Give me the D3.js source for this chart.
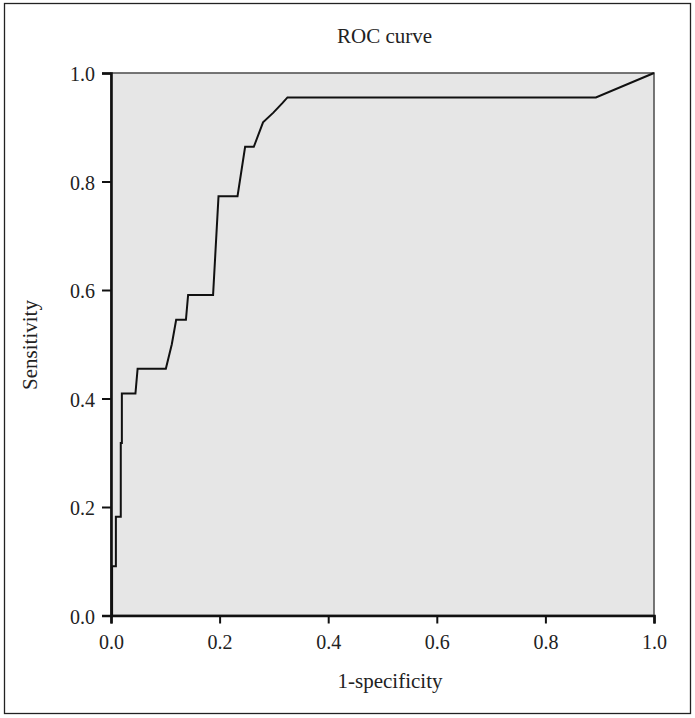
<!DOCTYPE html>
<html><head><meta charset="utf-8">
<script src="https://cdn.jsdelivr.net/npm/d3@7"></script>
<style>body{margin:0;background:#fff}</style>
</head><body>
<svg id="c" width="695" height="718"></svg>
<script>
const title = "ROC curve";
const xLabel = "1-specificity";
const yLabel = "Sensitivity";
const tickValues = [0, 0.2, 0.4, 0.6, 0.8, 1.0];
// ROC curve points: 1-specificity (fpr) and sensitivity (tpr)
const fpr = [0, 0.002, 0.002, 0.009, 0.009, 0.018, 0.018, 0.020, 0.020, 0.045, 0.049, 0.101, 0.112, 0.120, 0.138, 0.142, 0.188, 0.198, 0.233, 0.247, 0.263, 0.280, 0.299, 0.316, 0.325, 0.893, 1.0];
const tpr = [0, 0, 0.091, 0.091, 0.182, 0.182, 0.318, 0.318, 0.409, 0.409, 0.455, 0.455, 0.500, 0.545, 0.545, 0.591, 0.591, 0.773, 0.773, 0.864, 0.864, 0.909, 0.927, 0.945, 0.955, 0.955, 1.0];

const svg = d3.select("#c");
const font = "'Liberation Serif', 'DejaVu Serif', serif";
const L = 111, R = 654, T = 73, B = 615.5;
const x = d3.scaleLinear().domain([0, 1]).range([L, R]);
const y = d3.scaleLinear().domain([0, 1]).range([B, T]);

// outer frame
svg.append("rect").attr("x", 4.5).attr("y", 3.5).attr("width", 686).attr("height", 710)
  .attr("fill", "none").attr("stroke", "#222").attr("stroke-width", 1.3);

// plot background
svg.append("rect").attr("x", L).attr("y", T).attr("width", R - L).attr("height", B - T)
  .attr("fill", "#e6e6e6").attr("stroke", "#555").attr("stroke-width", 1.6);

// curve
const pts = fpr.map((f, i) => [f, tpr[i]]);
svg.append("path").datum(pts)
  .attr("d", d3.line().x(d => x(d[0])).y(d => y(d[1])))
  .attr("fill", "none").attr("stroke", "#111").attr("stroke-width", 2)
  .attr("stroke-linejoin", "miter");

// axes
const xAxis = svg.append("g").attr("transform", `translate(0,${B})`)
  .call(d3.axisBottom(x).tickValues(tickValues).tickFormat(d3.format(".1f")).tickSizeOuter(0).tickSize(8).tickPadding(11));
const yAxis = svg.append("g").attr("transform", `translate(${L},0)`)
  .call(d3.axisLeft(y).tickValues(tickValues).tickFormat(d3.format(".1f")).tickSizeOuter(0).tickSize(9).tickPadding(7));
[xAxis, yAxis].forEach(g => {
  g.select(".domain").attr("stroke", "#111").attr("stroke-width", 2.6);
  g.selectAll(".tick line").attr("stroke", "#111").attr("stroke-width", 2);
  g.selectAll(".tick text").attr("fill", "#222").style("font-family", font).style("font-size", "20px");
});
yAxis.selectAll(".tick text").attr("dy", "0.38em");

// title and labels
svg.append("text").attr("x", (L + R) / 2 + 2).attr("y", 43).attr("text-anchor", "middle")
  .style("font-family", font).style("font-size", "21px").attr("fill", "#222").text(title);
svg.append("text").attr("x", 390).attr("y", 688).attr("text-anchor", "middle")
  .style("font-family", font).style("font-size", "21px").attr("fill", "#222").text(xLabel);
svg.append("text").attr("transform", `translate(37,345) rotate(-90)`).attr("text-anchor", "middle")
  .style("font-family", font).style("font-size", "21px").attr("fill", "#222").text(yLabel);
</script>
</body></html>
